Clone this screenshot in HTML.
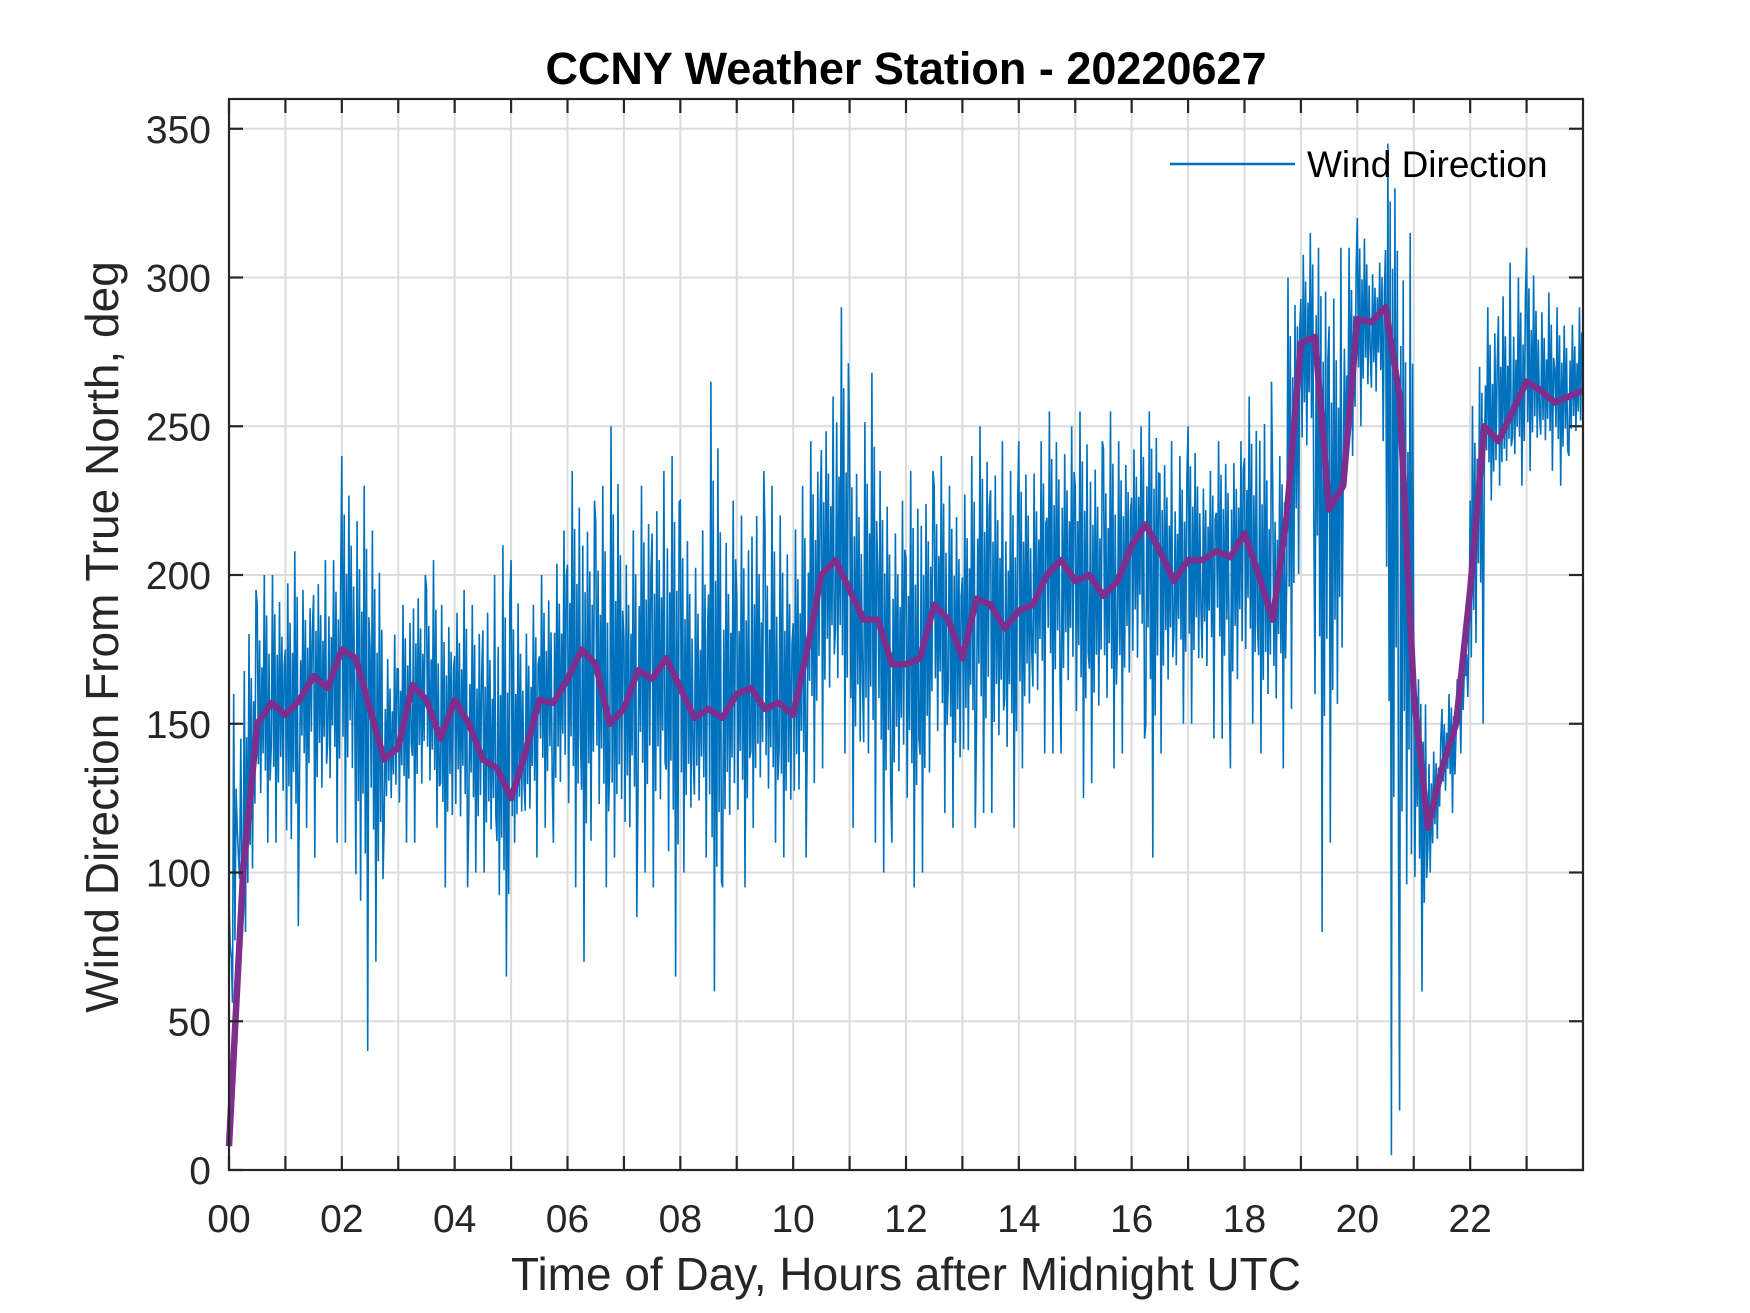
<!DOCTYPE html>
<html><head><meta charset="utf-8"><style>
body{margin:0;background:#fff}
svg{display:block;font-family:"Liberation Sans",Arial,sans-serif}
</style></head><body>
<svg id="chart" width="1750" height="1313" viewBox="0 0 1750 1313">
<rect width="1750" height="1313" fill="#fff"/>
<rect x="229" y="99" width="1354" height="1071" fill="#fff"/>
<g id="grid"></g>
<g id="blue"></g>
<g id="purple"></g>
<rect x="229" y="99" width="1354" height="1071" fill="none" stroke="#262626" stroke-width="2.2"/>
<g id="ticks"></g>
<text x="906" y="84" text-anchor="middle" font-size="45" font-weight="bold" fill="#000">CCNY Weather Station - 20220627</text>
<text x="906" y="1290" text-anchor="middle" font-size="46" fill="#262626">Time of Day, Hours after Midnight UTC</text>
<text transform="translate(118,637) rotate(-90)" text-anchor="middle" font-size="46" fill="#262626">Wind Direction From True North, deg</text>
<g>
<line x1="1170" y1="164" x2="1295" y2="164" stroke="#0072BD" stroke-width="2.5"/>
<text x="1307" y="177" font-size="37" fill="#000">Wind Direction</text>
</g>
</svg>
<script>
const hours = [0,0.25,0.5,0.75,1,1.25,1.5,1.75,2,2.25,2.5,2.75,3,3.25,3.5,3.75,4,4.25,4.5,4.75,5,5.25,5.5,5.75,6,6.25,6.5,6.75,7,7.25,7.5,7.75,8,8.25,8.5,8.75,9,9.25,9.5,9.75,10,10.25,10.5,10.75,11,11.25,11.5,11.75,12,12.25,12.5,12.75,13,13.25,13.5,13.75,14,14.25,14.5,14.75,15,15.25,15.5,15.75,16,16.25,16.5,16.75,17,17.25,17.5,17.75,18,18.25,18.5,18.75,19,19.25,19.5,19.75,20,20.25,20.5,20.75,21,21.25,21.5,21.75,22,22.25,22.5,22.75,23,23.25,23.5,23.75,24];
const smoothVals = [8,100,150,157,153,158,166,162,175,172,155,138,142,163,158,145,158,150,138,135,125,140,158,157,165,175,170,150,155,168,165,172,162,152,155,152,160,162,155,157,153,175,200,205,195,185,185,170,170,172,190,185,172,192,190,182,188,190,200,205,198,200,193,198,210,217,208,198,205,205,208,206,214,200,185,220,278,280,222,230,286,285,290,260,160,115,135,150,195,250,245,255,265,262,258,260,262];
const hiVals = [160,195,200,200,208,195,205,205,240,230,215,180,190,200,205,190,195,190,200,210,205,190,200,215,235,225,230,250,215,230,235,240,225,215,265,225,220,235,230,220,230,245,260,290,245,268,235,225,235,235,240,230,240,250,245,235,245,245,255,250,255,245,255,245,250,255,245,240,250,235,245,245,260,265,240,300,315,310,310,310,320,305,345,315,165,145,160,165,270,290,305,300,310,295,290,290,295];
const loVals = [115,80,110,110,82,115,105,110,110,40,70,115,110,110,115,95,95,100,100,65,110,105,115,110,95,70,95,105,85,100,95,65,100,105,60,95,95,115,110,105,105,130,135,140,115,110,100,110,95,100,120,115,115,120,120,115,135,140,140,140,125,130,135,140,145,105,140,150,150,145,145,135,150,140,135,155,220,80,110,240,250,245,5,20,60,100,120,140,150,225,230,230,235,235,230,240,240];
const yTicks = [0,50,100,150,200,250,300,350];
const xTickLabels = ['00','02','04','06','08','10','12','14','16','18','20','22'];

const NS='http://www.w3.org/2000/svg';
const X0=229,X1=1583,Y0=1170,Y1=99,XMAX=24,YMAX=360;
const xs=h=>X0+(X1-X0)*h/XMAX;
const ys=v=>Y0-(Y0-Y1)*v/YMAX;
function mk(tag,attrs,parent){const e=document.createElementNS(NS,tag);for(const k in attrs)e.setAttribute(k,attrs[k]);parent.appendChild(e);return e;}
const grid=document.getElementById('grid'),ticks=document.getElementById('ticks');
for(let h=1;h<24;h++){
  const l=mk('line',{x1:xs(h),x2:xs(h),y1:Y1,y2:Y0,stroke:'#dcdcdc','stroke-width':2},grid);
  
  
}
yTicks.forEach(v=>{
  if(v>0){const l=mk('line',{x1:X0,x2:X1,y1:ys(v),y2:ys(v),stroke:'#dcdcdc','stroke-width':2},grid);
  
  }
  const t1=mk('line',{x1:X0,x2:X0+14,y1:ys(v),y2:ys(v),stroke:'#262626','stroke-width':2.2},ticks);
  
  
  const t2=mk('line',{x1:X1-14,x2:X1,y1:ys(v),y2:ys(v),stroke:'#262626','stroke-width':2.2},ticks);
  
  
  const tx=mk('text',{x:211,y:ys(v)+14,'text-anchor':'end','font-size':39,fill:'#262626'},ticks);
  tx.textContent=v;
  
  
});
for(let h=0;h<24;h++){
  const a=mk('line',{x1:xs(h),x2:xs(h),y1:Y0,y2:Y0-14,stroke:'#262626','stroke-width':2.2},ticks);
  
  
  const b=mk('line',{x1:xs(h),x2:xs(h),y1:Y1,y2:Y1+14,stroke:'#262626','stroke-width':2.2},ticks);
  
  
}
xTickLabels.forEach((s,i)=>{
  const t=mk('text',{x:xs(i*2),y:1232,'text-anchor':'middle','font-size':39,fill:'#262626'},ticks);
  t.textContent=s;
  
  
});
// blue noisy series: zigzag within each bin between envelope values
const pattern=[0.55,-0.6,0.35,-0.3,1,-0.45,0.7,-1,0.4,-0.55,0.8,-0.35];
let pts=[];
for(let i=0;i<hours.length-1;i++){
  const n=pattern.length;
  for(let k=0;k<n;k++){
    const f=k/n, h=hours[i]+(hours[i+1]-hours[i])*f;
    const s=smoothVals[i]+(smoothVals[i+1]-smoothVals[i])*f;
    const m=pattern[(k+i*5)%n];
    const v=m>0? s+(hiVals[i]-s)*m : s+(s-loVals[i])*m;
    pts.push(xs(h).toFixed(1)+','+ys(Math.max(0,Math.min(YMAX,v))).toFixed(1));
  }
}
const bl=mk('polyline',{points:pts.join(' '),fill:'none',stroke:'#0072BD','stroke-width':1.6,'stroke-linejoin':'miter'},document.getElementById('blue'));


const pp=hours.map((h,i)=>xs(h).toFixed(1)+','+ys(smoothVals[i]).toFixed(1)).join(' ');
const pl=mk('polyline',{points:pp,fill:'none',stroke:'#7E2F8E','stroke-width':6.5,'stroke-linejoin':'round'},document.getElementById('purple'));


</script>
</body></html>
